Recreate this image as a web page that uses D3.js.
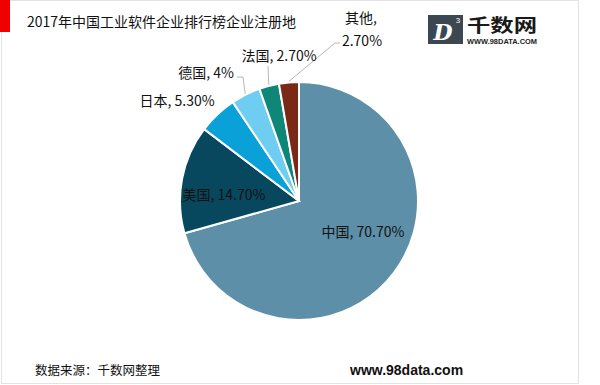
<!DOCTYPE html>
<html>
<head>
<meta charset="utf-8">
<script src="https://cdn.jsdelivr.net/npm/d3@7"></script>
<style>
  html, body { margin: 0; padding: 0; background: #fff; }
  svg { display: block; font-family: "Noto Sans CJK SC", "Noto Sans", sans-serif; }
</style>
</head>
<body>
<div id="chart"></div>
<script>
// chart data
const countries = ["中国", "美国", "日本", "德国", "法国", "其他"];
const shares = [70.7, 14.7, 5.3, 4, 2.7, 2.7];
const shareLabels = ["70.70%", "14.70%", "5.30%", "4%", "2.70%", "2.70%"];
const sliceColors = ["#5d90a8", "#08485f", "#0aa0d8", "#6fcdf1", "#0e8678", "#7a2916"];

const title = "2017年中国工业软件企业排行榜企业注册地";
const source = "数据来源：千数网整理";
const site = "www.98data.com";

const width = 600, height = 385;
const cx = 299, cy = 201, radius = 119;

// where each label sits, relative to the pie centre (leader = elbow points)
const labelLayout = {
  "中国": { x: 64, y: 31 },
  "美国": { x: -75, y: -6 },
  "日本": { x: -122, y: -100 },
  "德国": { x: -93, y: -128, leader: [[-56, -124], [-62, -124]] },
  "法国": { x: -20, y: -145, leader: [[-31, -135]] },
  "其他": { x: 62, y: -183, twoLines: true, leader: [[36, -158], [41, -158]] }
};

const svg = d3.select("#chart").append("svg")
  .attr("width", width)
  .attr("height", height);

// frame + red marker
svg.append("rect")
  .attr("x", 1.5).attr("y", 0.5)
  .attr("width", 577).attr("height", 383)
  .attr("fill", "#fff")
  .attr("stroke", "#e3e3e3");

svg.append("rect")
  .attr("x", 0).attr("y", 0)
  .attr("width", 10).attr("height", 32)
  .attr("fill", "#f00000");

svg.append("text")
  .attr("x", 27).attr("y", 27)
  .attr("font-size", 14)
  .attr("fill", "#111")
  .text(title);

// logo
const logo = svg.append("g").attr("transform", "translate(428,15)");
logo.append("rect")
  .attr("width", 35).attr("height", 29)
  .attr("fill", "#3b4852");
logo.append("text")
  .attr("x", 15).attr("y", 25)
  .attr("text-anchor", "middle")
  .attr("font-family", "DejaVu Serif, serif")
  .attr("font-style", "italic")
  .attr("font-weight", "bold")
  .attr("font-size", 22)
  .attr("fill", "#fff")
  .text("D");
logo.append("text")
  .attr("x", 30).attr("y", 8)
  .attr("text-anchor", "middle")
  .attr("font-family", "Liberation Sans, Arial, sans-serif")
  .attr("font-size", 8)
  .attr("fill", "#fff")
  .text("3");
logo.append("text")
  .attr("x", 39).attr("y", 17)
  .attr("font-size", 18)
  .attr("font-weight", "bold")
  .attr("fill", "#1a1a1a")
  .attr("textLength", 70)
  .attr("lengthAdjust", "spacingAndGlyphs")
  .text("千数网");
logo.append("text")
  .attr("x", 39).attr("y", 28.5)
  .attr("font-family", "Liberation Sans, Arial, sans-serif")
  .attr("font-size", 6.5)
  .attr("font-weight", "bold")
  .attr("fill", "#222")
  .attr("textLength", 70)
  .attr("lengthAdjust", "spacingAndGlyphs")
  .text("WWW.98DATA.COM");

// pie
const data = countries.map((c, i) => ({ country: c, value: shares[i], label: shareLabels[i], color: sliceColors[i] }));
const pie = d3.pie().value(d => d.value).sort(null);
const arc = d3.arc().innerRadius(0).outerRadius(radius);
const edgeArc = d3.arc().innerRadius(radius + 1).outerRadius(radius + 1);

const g = svg.append("g").attr("transform", `translate(${cx},${cy})`);
const arcs = pie(data);

g.selectAll("path.slice")
  .data(arcs)
  .join("path")
  .attr("class", "slice")
  .attr("d", arc)
  .attr("fill", d => d.data.color)
  .attr("stroke", "#fff")
  .attr("stroke-width", 2);

// leader lines
g.selectAll("polyline.leader")
  .data(arcs.filter(d => labelLayout[d.data.country].leader))
  .join("polyline")
  .attr("class", "leader")
  .attr("fill", "none")
  .attr("stroke", "#a6a6a6")
  .attr("stroke-width", 0.8)
  .attr("points", d => {
    const pts = [edgeArc.centroid(d)].concat(labelLayout[d.data.country].leader);
    return pts.map(p => p.join(",")).join(" ");
  });

// labels
const labels = g.selectAll("text.label")
  .data(arcs)
  .join("text")
  .attr("class", "label")
  .attr("text-anchor", "middle")
  .attr("font-size", 14)
  .attr("fill", "#111");

labels.each(function(d) {
  const lay = labelLayout[d.data.country];
  const t = d3.select(this);
  if (lay.twoLines) {
    t.append("tspan").attr("x", lay.x).attr("y", lay.y).attr("dy", "0.35em").text(d.data.country + ",");
    t.append("tspan").attr("x", lay.x + 1).attr("y", lay.y + 23).attr("dy", "0.35em").text(d.data.label);
  } else {
    t.attr("x", lay.x).attr("y", lay.y).attr("dy", "0.35em")
      .text(d.data.country + ", " + d.data.label);
  }
});

// footer
svg.append("text")
  .attr("x", 35).attr("y", 375)
  .attr("font-size", 12.5)
  .attr("fill", "#111")
  .text(source);

svg.append("text")
  .attr("x", 350).attr("y", 375)
  .attr("font-family", "Liberation Sans, Arial, sans-serif")
  .attr("font-size", 14)
  .attr("font-weight", "bold")
  .attr("fill", "#111")
  .text(site);
</script>
</body>
</html>
